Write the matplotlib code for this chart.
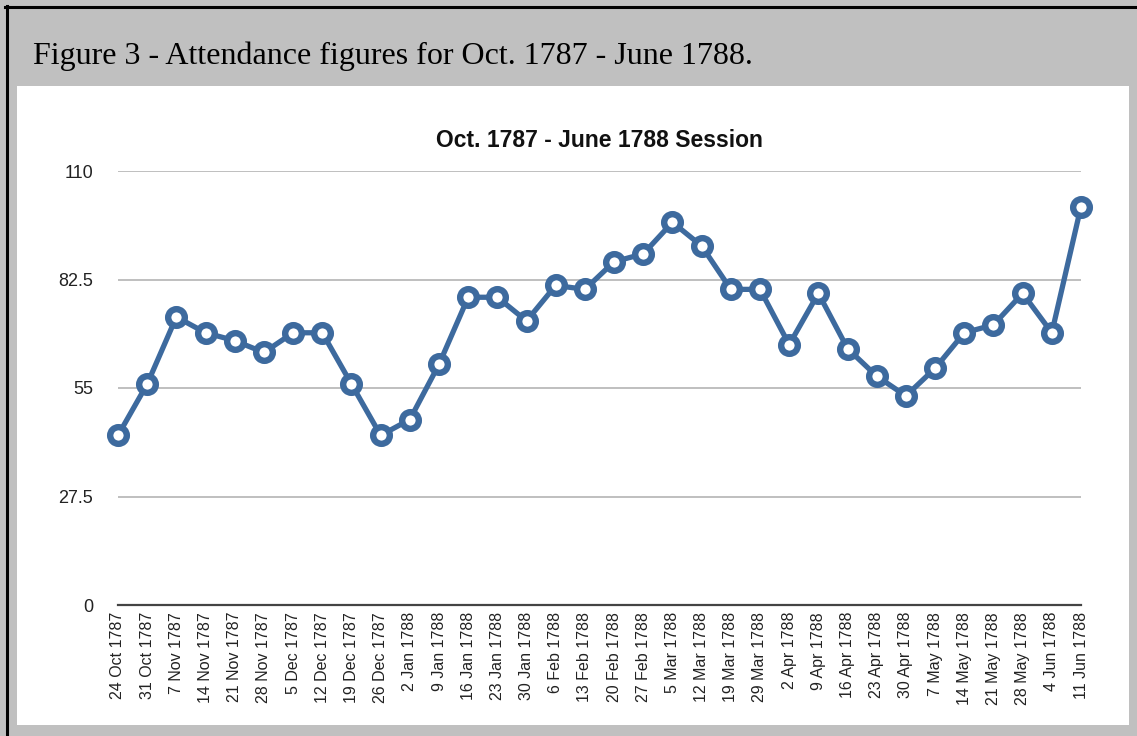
import matplotlib
matplotlib.use("Agg")
import matplotlib.pyplot as plt
from matplotlib.patches import Rectangle
from matplotlib.lines import Line2D

# Attendance per sitting, Oct. 1787 - June 1788
dates = [
    "24 Oct 1787", "31 Oct 1787", "7 Nov 1787", "14 Nov 1787", "21 Nov 1787",
    "28 Nov 1787", "5 Dec 1787", "12 Dec 1787", "19 Dec 1787", "26 Dec 1787",
    "2 Jan 1788", "9 Jan 1788", "16 Jan 1788", "23 Jan 1788", "30 Jan 1788",
    "6 Feb 1788", "13 Feb 1788", "20 Feb 1788", "27 Feb 1788", "5 Mar 1788",
    "12 Mar 1788", "19 Mar 1788", "29 Mar 1788", "2 Apr 1788", "9 Apr 1788",
    "16 Apr 1788", "23 Apr 1788", "30 Apr 1788", "7 May 1788", "14 May 1788",
    "21 May 1788", "28 May 1788", "4 Jun 1788", "11 Jun 1788",
]
attendance = [
    43, 56, 73, 69, 67, 64, 69, 69, 56, 43,
    47, 61, 78, 78, 72, 81, 80, 87, 89, 97,
    91, 80, 80, 66, 79, 65, 58, 53, 60, 69,
    71, 79, 69, 101,
]
y_ticks = [0, 27.5, 55, 82.5, 110]
y_labels = ["0", "27.5", "55", "82.5", "110"]

W, H = 1137, 736
fig = plt.figure(figsize=(W / 100, H / 100), dpi=100, facecolor="#c0c0c0")

# white panel and black frame lines
fig.patches.append(Rectangle((17 / W, 1 - 725 / H), (1129 - 17) / W, (725 - 86) / H,
                             transform=fig.transFigure, facecolor="white",
                             edgecolor="none", zorder=-5))
fig.lines.append(Line2D([5 / W, 1], [1 - 7 / H, 1 - 7 / H], transform=fig.transFigure,
                        color="black", lw=2.2))
fig.lines.append(Line2D([6.5 / W, 6.5 / W], [0, 1 - 6 / H], transform=fig.transFigure,
                        color="black", lw=2.2))

fig.text(33 / W, 1 - 64 / H, "Figure 3 - Attendance figures for Oct. 1787 - June 1788.",
         family="Liberation Serif", fontsize=23, color="black", va="baseline")

ax = fig.add_axes([118 / W, 1 - 605 / H, (1081 - 118) / W, (605 - 171) / H])
ax.set_facecolor("none")
x = list(range(len(dates)))
ax.plot(x, attendance, color="#3d6a9e", lw=3.8, marker="o", markersize=12,
        markerfacecolor="white", markeredgecolor="#3d6a9e", markeredgewidth=4.6,
        clip_on=False, zorder=3)

ax.set_xlim(0, len(dates) - 1)
ax.set_ylim(0, 110)
ax.set_yticks(y_ticks)
ax.set_yticklabels(y_labels)
ax.set_xticks(x)
ax.set_xticklabels(dates, rotation=90)
for v in y_ticks[1:]:
    ax.axhline(v, color="#b4b4b4", lw=1.2, zorder=1)
for s in ["top", "right", "left"]:
    ax.spines[s].set_visible(False)
ax.spines["bottom"].set_color("#444444")
ax.spines["bottom"].set_linewidth(1.6)
ax.tick_params(length=0)
ax.tick_params(axis="y", pad=18, labelsize=13, labelcolor="#222222")
ax.tick_params(axis="x", pad=5, labelsize=11.5, labelcolor="#222222")
for lab in ax.get_xticklabels() + ax.get_yticklabels():
    lab.set_family("Liberation Sans")

ax.set_title("Oct. 1787 - June 1788 Session", fontsize=16.5, fontweight="bold",
             family="Liberation Sans", pad=17, color="#111111")

fig.savefig("out.png", dpi=100, facecolor=fig.get_facecolor())
